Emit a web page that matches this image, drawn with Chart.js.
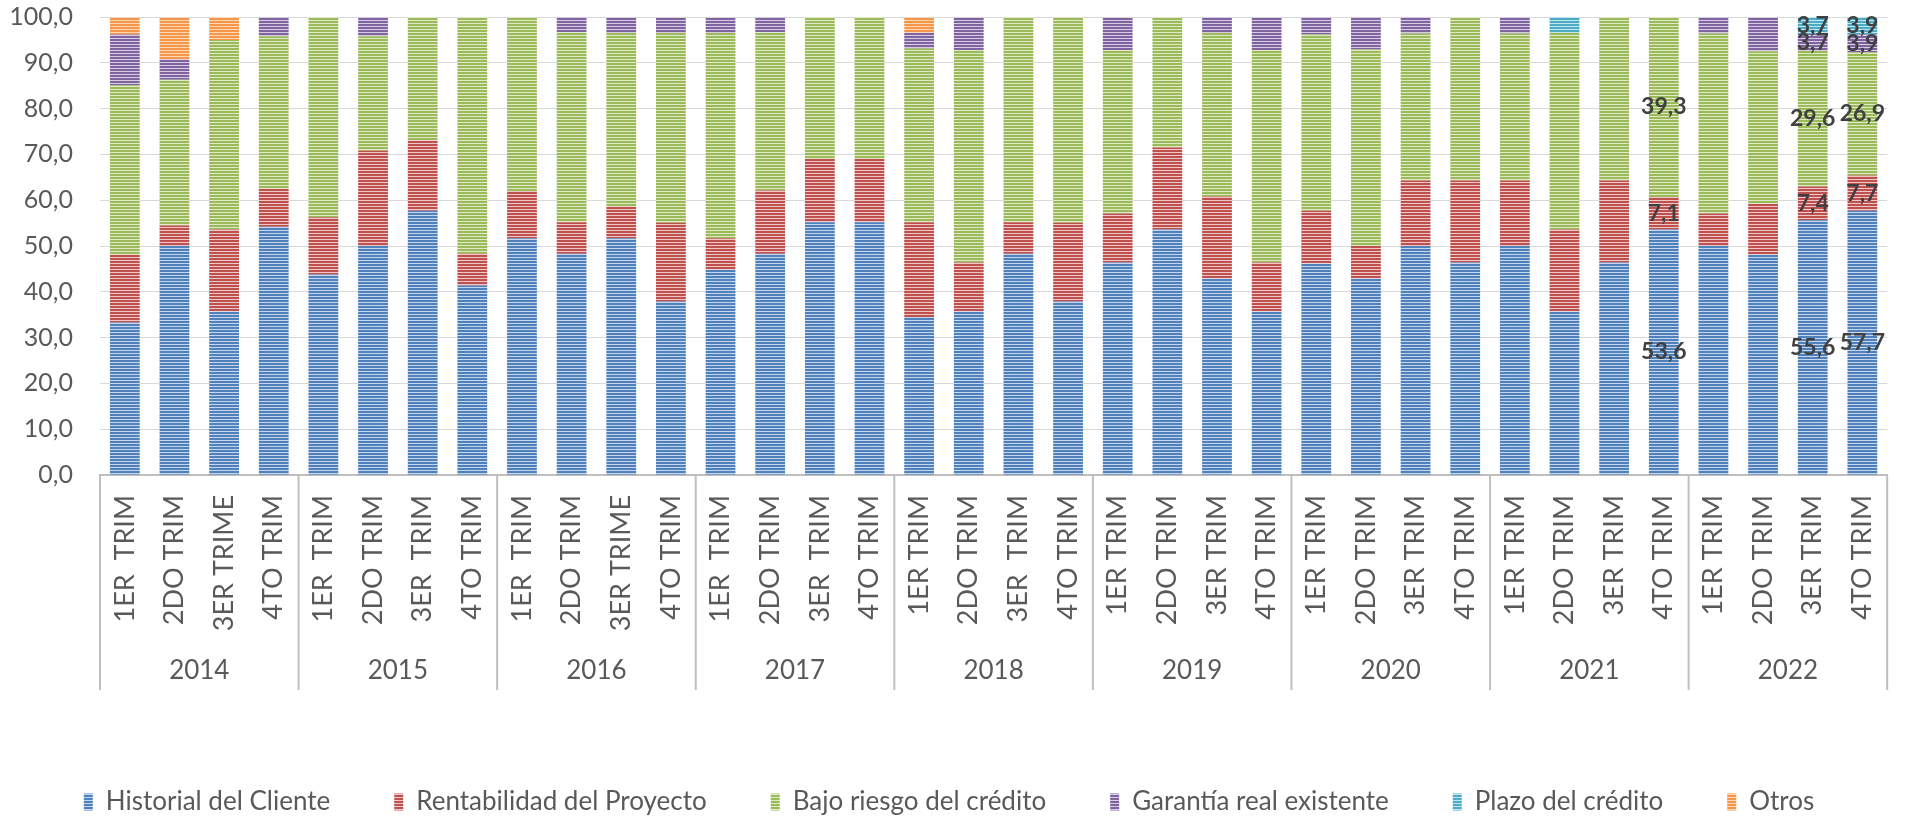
<!DOCTYPE html>
<html lang="es">
<head>
<meta charset="utf-8">
<title>Criterios de aprobación de créditos</title>
<script src="https://cdn.jsdelivr.net/npm/chart.js@4.4.0/dist/chart.umd.min.js"></script>
<style>
  html, body { margin: 0; padding: 0; background: #fff; overflow: hidden; }
  #wrap { position: relative; width: 1915px; height: 825px; }
</style>
</head>
<body>
<div id="wrap"><canvas id="grafico"></canvas></div>
<script>
// Datos (porcentajes por trimestre)
const anios = ['2014', '2015', '2016', '2017', '2018', '2019', '2020', '2021', '2022'];
const trimestres = [
    '1ER  TRIM', '2DO TRIM', '3ER TRIME', '4TO TRIM',
    '1ER  TRIM', '2DO TRIM', '3ER  TRIM', '4TO TRIM',
    '1ER  TRIM', '2DO TRIM', '3ER TRIME', '4TO TRIM',
    '1ER  TRIM', '2DO TRIM', '3ER  TRIM', '4TO TRIM',
    '1ER TRIM', '2DO TRIM', '3ER  TRIM', '4TO TRIM',
    '1ER TRIM', '2DO TRIM', '3ER TRIM', '4TO TRIM',
    '1ER TRIM', '2DO TRIM', '3ER TRIM', '4TO TRIM',
    '1ER TRIM', '2DO TRIM', '3ER TRIM', '4TO TRIM',
    '1ER TRIM', '2DO TRIM', '3ER TRIM', '4TO TRIM'
];
const historial = [33.3, 50.0, 35.7, 54.2, 43.8, 50.0, 57.7, 41.4, 51.7, 48.3, 51.7, 37.9, 44.8, 48.3, 55.2, 55.2, 34.5, 35.7, 48.3, 37.9, 46.4, 53.6, 42.9, 35.7, 46.2, 42.9, 50.0, 46.4, 50.0, 35.7, 46.4, 53.6, 50.0, 48.1, 55.6, 57.7];
const rentabilidad = [14.8, 4.5, 17.9, 8.3, 12.5, 20.8, 15.4, 6.9, 10.3, 6.9, 6.9, 17.2, 6.9, 13.8, 13.8, 13.8, 20.7, 10.7, 6.9, 17.2, 10.7, 17.9, 17.9, 10.7, 11.5, 7.1, 14.3, 17.9, 14.3, 17.9, 17.9, 7.1, 7.1, 11.1, 7.4, 7.7];
const bajoRiesgo = [37.0, 31.8, 41.4, 33.3, 43.7, 25.0, 26.9, 51.7, 37.9, 41.4, 37.9, 41.4, 44.8, 34.5, 31.0, 31.0, 37.9, 46.4, 44.8, 44.8, 35.7, 28.6, 35.7, 46.4, 38.5, 42.9, 32.1, 35.7, 32.1, 42.9, 35.7, 39.3, 39.3, 33.3, 29.6, 26.9];
const garantia = [11.1, 4.5, null, 4.2, null, 4.2, null, null, null, 3.4, 3.4, 3.4, 3.4, 3.4, null, null, 3.4, 7.1, null, null, 7.1, null, 3.6, 7.1, 3.8, 7.1, 3.6, null, 3.6, null, null, null, 3.6, 7.4, 3.7, 3.9];
const plazo = [null, null, null, null, null, null, null, null, null, null, null, null, null, null, null, null, null, null, null, null, null, null, null, null, null, null, null, null, null, 3.6, null, null, null, null, 3.7, 3.9];
const otros = [3.7, 9.1, 5.0, null, null, null, null, null, null, null, null, null, null, null, null, null, 3.4, null, null, null, null, null, null, null, null, null, null, null, null, null, null, null, null, null, null, null];

// Barras que llevan etiqueta de valor
const barrasConEtiqueta = [31, 34, 35];

Chart.defaults.font.family = 'Lato';
Chart.defaults.color = '#595959';

// Relleno rayado horizontal como en el original
function rayas(color, claro) {
    const c = document.createElement('canvas');
    c.width = 4;
    c.height = 3;
    const g = c.getContext('2d');
    g.fillStyle = color;
    g.fillRect(0, 0, 4, 3);
    g.fillStyle = claro;
    g.fillRect(0, 2, 4, 1);
    return g.createPattern(c, 'repeat');
}

function formato(v) {
    return Number(v).toFixed(1).replace('.', ',');
}

// Años y separadores bajo el eje X
const gruposPlugin = {
    id: 'grupos',
    afterDraw(chart) {
        const ctx = chart.ctx;
        const x = chart.scales.x;
        const paso = x.getPixelForValue(1) - x.getPixelForValue(0);
        ctx.save();
        ctx.strokeStyle = '#bfbfbf';
        ctx.lineWidth = 2;
        for (let g = 0; g <= anios.length; g++) {
            const px = x.getPixelForValue(0) - paso / 2 + g * 4 * paso;
            ctx.beginPath();
            ctx.moveTo(px, x.top);
            ctx.lineTo(px, x.top + 215);
            ctx.stroke();
        }
        ctx.fillStyle = '#595959';
        ctx.font = '26px Lato';
        ctx.textAlign = 'center';
        ctx.textBaseline = 'middle';
        anios.forEach((a, g) => {
            const px = x.getPixelForValue(0) - paso / 2 + (g * 4 + 2) * paso;
            ctx.fillText(a, px, x.top + 196);
        });
        ctx.restore();
    }
};

// Etiquetas de valor centradas en cada segmento
const etiquetasPlugin = {
    id: 'etiquetas',
    afterDatasetsDraw(chart) {
        const ctx = chart.ctx;
        ctx.save();
        ctx.fillStyle = '#404040';
        ctx.font = 'bold 23px Lato';
        ctx.textAlign = 'center';
        ctx.textBaseline = 'middle';
        chart.data.datasets.forEach((ds, i) => {
            const meta = chart.getDatasetMeta(i);
            barrasConEtiqueta.forEach(j => {
                const v = ds.data[j];
                if (v === null || v === undefined) return;
                const el = meta.data[j];
                ctx.fillText(formato(v), el.x, (el.y + el.base) / 2);
            });
        });
        ctx.restore();
    }
};

const ctx = document.getElementById('grafico').getContext('2d');
const grafico = new Chart(ctx, {
    type: 'bar',
    data: {
        labels: trimestres,
        datasets: [
            { label: 'Historial del Cliente', data: historial, backgroundColor: rayas('#4f81bd', '#c6d5ea') },
            { label: 'Rentabilidad del Proyecto', data: rentabilidad, backgroundColor: rayas('#c0504d', '#ecc9c8') },
            { label: 'Bajo riesgo del crédito', data: bajoRiesgo, backgroundColor: rayas('#9bbb59', '#dfe9ca') },
            { label: 'Garantía real existente', data: garantia, backgroundColor: rayas('#8064a2', '#d6cde2') },
            { label: 'Plazo del crédito', data: plazo, backgroundColor: rayas('#4bacc6', '#c6e4ed') },
            { label: 'Otros', data: otros, backgroundColor: rayas('#f79646', '#fcd8bb') }
        ]
    },
    options: {
        responsive: true,
        maintainAspectRatio: false,
        animation: false,
        layout: { autoPadding: false, padding: { top: 17, right: 17, left: 0, bottom: 0 } },
        datasets: {
            bar: { categoryPercentage: 1, barPercentage: 0.6 }
        },
        plugins: {
            legend: {
                position: 'bottom',
                labels: {
                    boxWidth: 9,
                    boxHeight: 17,
                    padding: 64,
                    color: '#595959',
                    font: { size: 26 }
                }
            },
            tooltip: { enabled: false }
        },
        scales: {
            x: {
                stacked: true,
                grid: { display: false, drawTicks: false },
                border: { display: true, color: '#bfbfbf', width: 2 },
                ticks: {
                    autoSkip: false,
                    minRotation: 90,
                    maxRotation: 90,
                    padding: 20,
                    color: '#595959',
                    font: { size: 27 }
                },
                afterFit(scale) { scale.height = 250; }
            },
            y: {
                stacked: true,
                min: 0,
                max: 100,
                // marcas invisibles: separan las etiquetas sin añadir margen arriba
                grid: { color: '#d9d9d9', lineWidth: 1, drawTicks: true, tickLength: 27, tickColor: 'rgba(0,0,0,0)' },
                border: { display: false },
                ticks: {
                    stepSize: 10,
                    padding: 0,
                    color: '#595959',
                    font: { size: 25 },
                    callback: v => formato(v)
                },
                afterFit(scale) {
                    scale.width = 100;
                    scale.paddingTop = 0;
                    scale.paddingBottom = 0;
                }
            }
        }
    },
    plugins: [gruposPlugin, etiquetasPlugin]
});
</script>
</body>
</html>
